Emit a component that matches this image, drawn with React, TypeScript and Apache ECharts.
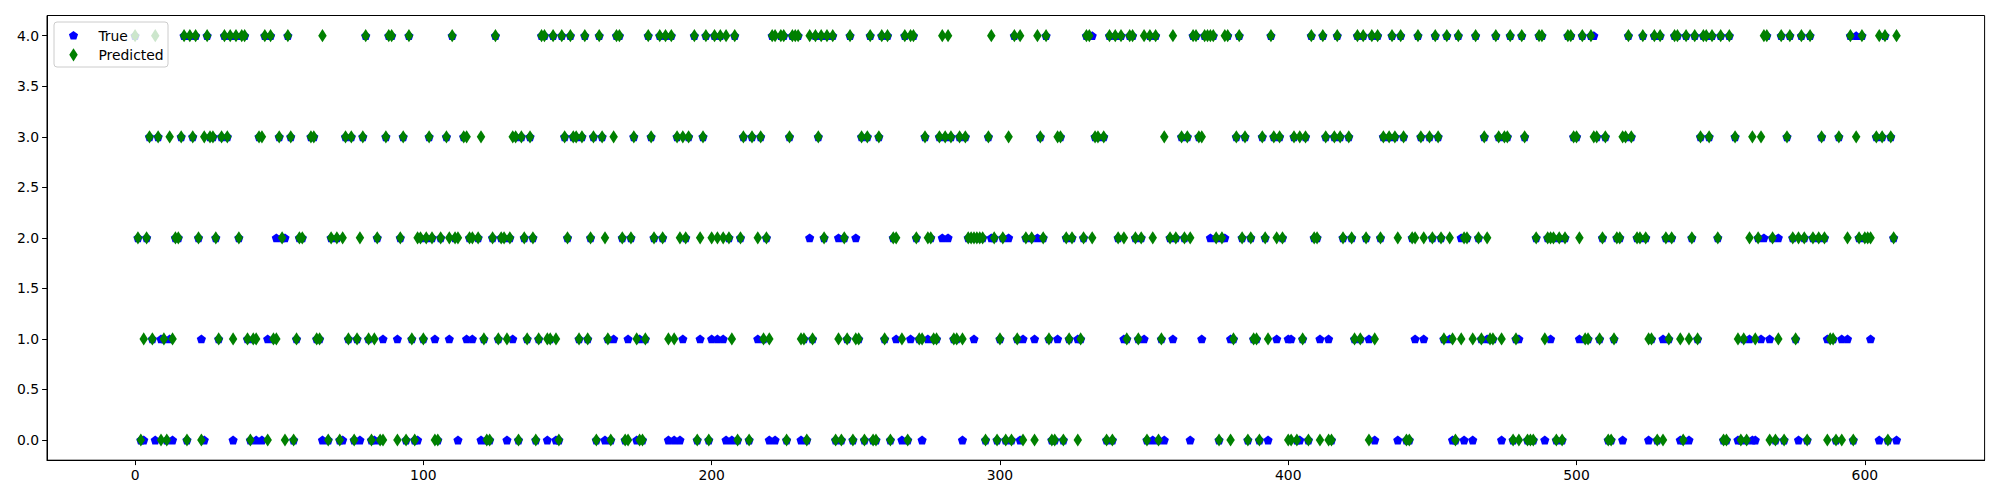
import React, { useEffect, useRef } from "react";
import * as echarts from "echarts";

const N = 612;
const xTicks = [0, 100, 200, 300, 400, 500, 600];
const yTicks = [0, 0.5, 1, 1.5, 2, 2.5, 3, 3.5, 4];

// indices where the predicted class is 4, 3, 2, 1, 0
const predAt4 = [0, 7, 17, 19, 21, 25, 31, 33, 35, 37, 38, 45, 47, 53, 65, 80, 88, 89, 95, 110, 125, 141, 142, 145, 148, 151, 156, 161, 167, 168, 178, 182, 184, 186, 194, 198, 201, 203, 205, 208, 221, 222, 224, 225, 228, 229, 230, 234, 236, 238, 240, 242, 248, 255, 259, 261, 267, 269, 270, 280, 282, 297, 305, 307, 313, 316, 330, 331, 338, 340, 342, 345, 346, 350, 352, 354, 360, 367, 368, 371, 372, 373, 374, 378, 379, 383, 394, 408, 412, 417, 424, 426, 429, 431, 436, 439, 445, 451, 455, 459, 465, 472, 477, 481, 487, 488, 497, 498, 502, 505, 518, 523, 527, 529, 534, 535, 538, 541, 544, 545, 547, 550, 553, 565, 566, 571, 574, 578, 581, 595, 599, 605, 607, 611];
const predAt3 = [5, 8, 12, 16, 20, 24, 26, 27, 30, 32, 43, 44, 50, 54, 61, 62, 73, 75, 79, 87, 93, 102, 108, 114, 115, 120, 131, 132, 134, 137, 149, 152, 153, 155, 159, 162, 166, 173, 179, 188, 190, 192, 197, 211, 214, 217, 227, 237, 252, 254, 258, 274, 279, 281, 283, 286, 288, 296, 303, 314, 320, 321, 333, 334, 336, 357, 363, 365, 369, 370, 382, 385, 391, 395, 397, 402, 404, 406, 413, 416, 418, 421, 433, 435, 437, 440, 446, 449, 452, 468, 473, 475, 476, 482, 499, 500, 506, 507, 510, 516, 517, 519, 543, 546, 555, 561, 564, 573, 585, 591, 597, 604, 606, 609];
const predAt2 = [1, 4, 14, 15, 22, 28, 36, 51, 57, 58, 68, 70, 72, 78, 84, 92, 98, 99, 101, 103, 106, 109, 111, 112, 116, 117, 119, 124, 127, 128, 130, 135, 138, 150, 158, 163, 169, 172, 180, 183, 189, 191, 196, 200, 202, 204, 206, 210, 216, 219, 239, 246, 263, 264, 271, 275, 276, 289, 290, 291, 292, 293, 294, 298, 301, 309, 311, 315, 323, 325, 329, 332, 341, 343, 347, 349, 353, 359, 361, 364, 366, 375, 377, 384, 387, 392, 396, 398, 409, 410, 419, 422, 427, 432, 438, 443, 444, 447, 450, 453, 456, 461, 462, 466, 469, 486, 490, 491, 492, 494, 496, 501, 509, 514, 515, 521, 522, 524, 531, 533, 540, 549, 560, 563, 568, 575, 577, 579, 582, 584, 586, 594, 598, 600, 601, 602, 610];
const predAt1 = [3, 6, 10, 13, 29, 34, 39, 41, 42, 48, 49, 56, 63, 64, 74, 77, 81, 83, 96, 100, 121, 126, 129, 136, 140, 143, 144, 146, 154, 157, 164, 174, 177, 185, 187, 207, 218, 220, 231, 232, 235, 244, 247, 250, 251, 260, 266, 272, 273, 277, 278, 284, 285, 287, 300, 306, 317, 324, 328, 344, 348, 356, 381, 388, 389, 393, 405, 423, 425, 430, 454, 457, 460, 464, 467, 470, 471, 474, 479, 489, 503, 504, 508, 513, 525, 526, 532, 536, 539, 542, 556, 558, 562, 570, 576, 588, 589];
const predAt0 = [2, 9, 11, 18, 23, 40, 46, 52, 55, 67, 71, 76, 82, 85, 86, 91, 94, 97, 104, 105, 122, 123, 133, 139, 147, 160, 165, 170, 171, 175, 176, 195, 199, 209, 213, 226, 233, 243, 245, 249, 253, 256, 257, 262, 268, 295, 299, 302, 304, 308, 312, 318, 319, 322, 327, 337, 339, 351, 355, 376, 380, 386, 390, 400, 401, 403, 407, 411, 414, 415, 428, 441, 442, 458, 478, 480, 483, 484, 485, 493, 495, 511, 512, 528, 530, 537, 551, 552, 557, 559, 567, 569, 572, 580, 587, 590, 592, 596, 608];

// indices where the true class differs from the prediction
const trueIs4 = [332, 506, 597];
const trueIs2 = [49, 52, 234, 244, 250, 280, 282, 297, 303, 313, 373, 378, 460, 565, 570];
const trueIs1 = [9, 12, 23, 46, 86, 91, 104, 109, 115, 117, 131, 166, 171, 175, 190, 196, 200, 202, 204, 216, 264, 269, 275, 291, 308, 312, 320, 327, 343, 350, 360, 370, 380, 396, 400, 401, 411, 414, 428, 444, 447, 456, 469, 480, 491, 501, 530, 560, 564, 567, 587, 592, 594, 602];
const trueIs0 = [3, 7, 13, 24, 34, 42, 44, 65, 72, 78, 83, 98, 112, 120, 129, 143, 146, 163, 174, 185, 187, 189, 205, 207, 220, 222, 231, 266, 273, 287, 307, 353, 357, 366, 393, 404, 430, 438, 457, 461, 464, 474, 489, 516, 525, 536, 539, 556, 561, 562, 577, 605, 611];

const FONT = "DejaVu Sans";

function buildData() {
  const pred: (number | null)[] = new Array(N).fill(null);
  const rows: [number[], number][] = [
    [predAt4, 4], [predAt3, 3], [predAt2, 2], [predAt1, 1], [predAt0, 0],
  ];
  rows.forEach(([list, v]) => list.forEach((i) => (pred[i] = v)));
  const truth = pred.slice();
  const diffs: [number[], number][] = [
    [trueIs4, 4], [trueIs2, 2], [trueIs1, 1], [trueIs0, 0],
  ];
  diffs.forEach(([list, v]) => list.forEach((i) => (truth[i] = v)));
  const predData: number[][] = [];
  const trueData: number[][] = [];
  for (let i = 0; i < N; i++) {
    if (pred[i] !== null) predData.push([i, pred[i] as number]);
    if (truth[i] !== null) trueData.push([i, truth[i] as number]);
  }
  return { predData, trueData };
}

const PENTAGON = "path://M0,-1L0.951,-0.309L0.588,0.809L-0.588,0.809L-0.951,-0.309Z";

function pentagonPoints(cx: number, cy: number, r: number) {
  const pts: number[][] = [];
  for (let k = 0; k < 5; k++) {
    const a = (-90 + 72 * k) * (Math.PI / 180);
    pts.push([cx + r * Math.cos(a), cy + r * Math.sin(a)]);
  }
  return pts;
}

export default function App() {
  const ref = useRef<HTMLDivElement>(null);
  useEffect(() => {
    if (!ref.current) return;
    const chart = echarts.init(ref.current, null, { renderer: "svg" });
    const { predData, trueData } = buildData();
    const legX = 54;
    const legY = 22;
    const mx = 73.5;
    const r1 = 35.7;
    const r2 = 54.8;
    const Z = 100;
    const axisCommon = {
      axisLine: { show: true, onZero: false, lineStyle: { color: "#000000", width: 1 } },
      splitLine: { show: false },
    };
    chart.setOption({
      animation: false,
      backgroundColor: "#ffffff",
      grid: {
        left: 47,
        right: 15.4,
        top: 15.5,
        bottom: 39.8,
        show: true,
        borderColor: "#000000",
        borderWidth: 1,
        backgroundColor: "transparent",
      },
      xAxis: {
        type: "value",
        min: -30.55,
        max: 641.55,
        ...axisCommon,
        axisTick: {
          show: true,
          inside: false,
          length: 4.9,
          lineStyle: { color: "#000000", width: 1 },
          customValues: xTicks,
        },
        axisLabel: {
          customValues: xTicks,
          margin: 8,
          color: "#000000",
          fontFamily: FONT,
          fontSize: 13.9,
          formatter: (v: number) => String(v),
        },
      },
      yAxis: {
        type: "value",
        min: -0.2,
        max: 4.2,
        ...axisCommon,
        axisTick: {
          show: true,
          inside: false,
          length: 4.9,
          lineStyle: { color: "#000000", width: 1 },
          customValues: yTicks,
        },
        axisLabel: {
          customValues: yTicks,
          margin: 8,
          color: "#000000",
          fontFamily: FONT,
          fontSize: 13.9,
          formatter: (v: number) => v.toFixed(1),
        },
      },
      series: [
        {
          name: "True",
          type: "scatter",
          z: 2,
          data: trueData,
          symbol: PENTAGON,
          symbolSize: [9.2, 8.8],
          itemStyle: { color: "#0000ff", opacity: 1 },
          emphasis: { disabled: true },
        },
        {
          name: "Predicted",
          type: "scatter",
          z: 3,
          data: predData,
          symbol: "diamond",
          symbolSize: [8.5, 13.2],
          itemStyle: { color: "#008000", opacity: 1 },
          emphasis: { disabled: true },
        },
      ],
      graphic: [
        {
          type: "rect",
          z: Z,
          shape: { x: legX, y: legY, width: 114, height: 45, r: 3 },
          style: { fill: "rgba(255,255,255,0.8)", stroke: "#cccccc", lineWidth: 1 },
        },
        {
          type: "polygon",
          z: Z + 1,
          shape: { points: pentagonPoints(mx, r1, 4.8) },
          style: { fill: "#0000ff" },
        },
        {
          type: "text",
          z: Z + 1,
          x: 98.4,
          y: r1,
          style: {
            text: "True",
            fill: "#000000",
            font: `13.9px "${FONT}"`,
            verticalAlign: "middle",
            align: "left",
          },
        },
        {
          type: "polygon",
          z: Z + 1,
          shape: {
            points: [
              [mx, r2 - 6.6],
              [mx + 4.25, r2],
              [mx, r2 + 6.6],
              [mx - 4.25, r2],
            ],
          },
          style: { fill: "#008000" },
        },
        {
          type: "text",
          z: Z + 1,
          x: 98.4,
          y: r2,
          style: {
            text: "Predicted",
            fill: "#000000",
            font: `13.9px "${FONT}"`,
            verticalAlign: "middle",
            align: "left",
          },
        },
      ],
    });
    return () => chart.dispose();
  }, []);
  return (
    <div
      ref={ref}
      style={{ position: "fixed", left: 0, top: 0, width: 2000, height: 500, background: "#fff" }}
    />
  );
}
